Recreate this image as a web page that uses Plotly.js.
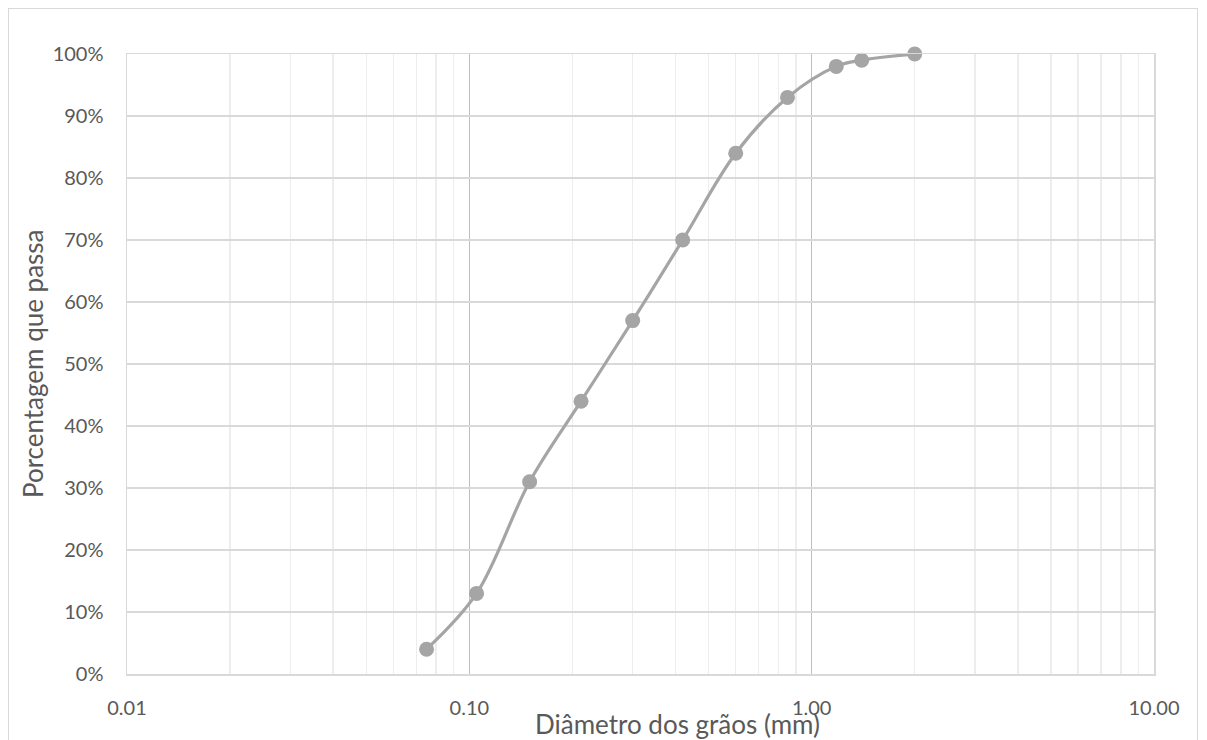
<!DOCTYPE html>
<html>
<head>
<meta charset="utf-8">
<script src="https://cdn.plot.ly/plotly-3.0.1.min.js"></script>
<style>
html,body{margin:0;padding:0;background:#fff;overflow:hidden;}
#frame{position:absolute;left:8px;top:8px;width:1190px;height:760px;border:1px solid #D9D9D9;box-sizing:border-box;}
#chart{position:absolute;left:0;top:0;width:1207px;height:740px;}
</style>
</head>
<body>
<div id="frame"></div>
<div id="chart"></div>
<script>
// Diâmetro dos grãos (mm)
const diameters = [0.075, 0.105, 0.15, 0.212, 0.30, 0.42, 0.60, 0.85, 1.18, 1.40, 2.00];
// Porcentagem que passa
const passing = [0.04, 0.13, 0.31, 0.44, 0.57, 0.70, 0.84, 0.93, 0.98, 0.99, 1.00];
const xTickVals = [0.01, 0.1, 1, 10];
const xTickText = ['0.01', '0.10', '1.00', '10.00'];
const xTitle = 'Diâmetro dos grãos (mm)';
const yTitle = 'Porcentagem que passa';

const fontFam = 'Lato, "Open Sans", sans-serif';
const txt = '#595959';

const trace = {
  x: diameters, y: passing, type: 'scatter', mode: 'lines+markers',
  line: {color: '#A5A5A5', width: 3.2, shape: 'spline', smoothing: 1},
  marker: {color: '#A5A5A5', size: 15},
  cliponaxis: false,
  hoverinfo: 'x+y'
};

const layout = {
  width: 1207, height: 740,
  margin: {l: 127, r: 53, t: 54, b: 66},
  paper_bgcolor: 'rgba(0,0,0,0)', plot_bgcolor: '#fff',
  showlegend: false,
  font: {family: fontFam, size: 20, color: txt},
  xaxis: {
    type: 'log', range: [-2, 1],
    tickvals: xTickVals, ticktext: xTickText,
    ticks: 'outside', ticklen: 15, tickcolor: 'rgba(0,0,0,0)',
    showgrid: true, gridcolor: '#BFBFBF', gridwidth: 1,
    minor: {dtick: 'D1', showgrid: true, gridcolor: '#EDEDED', gridwidth: 1.5, ticks: ''},
    showline: true, linecolor: '#D9D9D9', linewidth: 1.5, mirror: true,
    zeroline: false,
    tickfont: {family: fontFam, size: 20, color: txt}
  },
  yaxis: {
    range: [0, 1], dtick: 0.1, tickformat: '.0%',
    ticks: 'outside', ticklen: 18, tickcolor: 'rgba(0,0,0,0)',
    showgrid: true, gridcolor: '#D9D9D9', gridwidth: 1.5,
    showline: true, linecolor: '#D9D9D9', linewidth: 1.5, mirror: true,
    zeroline: false,
    tickfont: {family: fontFam, size: 20, color: txt}
  },
  annotations: [
    {text: xTitle, xref: 'paper', yref: 'paper', x: 0.5365, y: -0.081,
     xanchor: 'center', yanchor: 'middle', showarrow: false,
     font: {family: fontFam, size: 26, color: txt}},
    {text: yTitle, xref: 'paper', yref: 'paper', x: -0.0915, y: 0.5,
     xanchor: 'center', yanchor: 'middle', textangle: -90, showarrow: false,
     font: {family: fontFam, size: 26, color: txt}}
  ]
};

Plotly.newPlot('chart', [trace], layout, {displayModeBar: false, staticPlot: true});
</script>
</body>
</html>
